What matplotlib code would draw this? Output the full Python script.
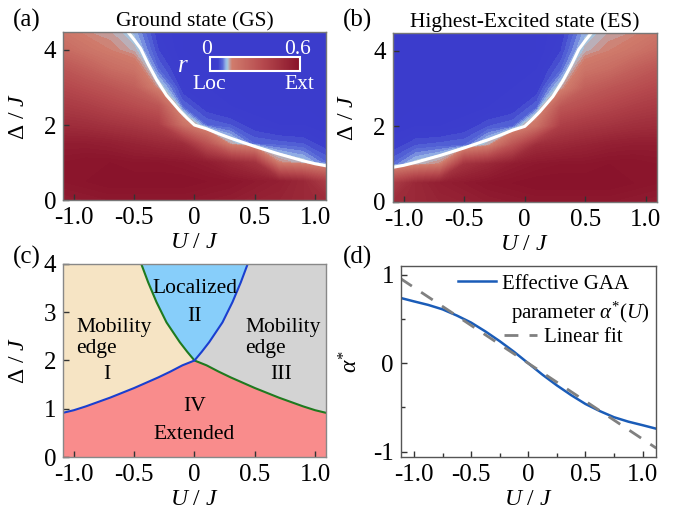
import numpy as np
import matplotlib
matplotlib.use("Agg")
import matplotlib.pyplot as plt
from matplotlib.colors import LinearSegmentedColormap, Normalize
import matplotlib.cm as cm

plt.rcParams['font.family'] = ['Liberation Serif', 'DejaVu Serif']
plt.rcParams['mathtext.fontset'] = 'custom'
plt.rcParams['mathtext.rm'] = 'Liberation Serif'
plt.rcParams['mathtext.it'] = 'Liberation Serif:italic'
plt.rcParams['axes.unicode_minus'] = False

# ---- data ----
# ratio r on a coarse (U, Delta) grid for the ground state (rows: Delta, cols: U)
u_grid = [-1.1, -0.9, -0.7, -0.5, -0.3, -0.1, 0.1, 0.3, 0.5, 0.7, 0.9, 1.1]
d_grid = [0.0, 0.5, 1.0, 1.5, 2.0, 2.5, 3.0, 3.5, 4.0, 4.5]
r_gs = [
    [0.55, 0.56, 0.57, 0.57, 0.57, 0.57, 0.56, 0.55, 0.53, 0.52, 0.50, 0.48],
    [0.58, 0.59, 0.60, 0.60, 0.60, 0.60, 0.59, 0.58, 0.56, 0.54, 0.50, 0.40],
    [0.58, 0.59, 0.59, 0.58, 0.58, 0.57, 0.55, 0.50, 0.45, 0.145, 0.12, 0.08],
    [0.55, 0.55, 0.54, 0.52, 0.50, 0.48, 0.31, 0.13, 0.08, 0.075, 0.07, 0.05],
    [0.48, 0.47, 0.45, 0.43, 0.40, 0.19, 0.08, 0.07, 0.05, 0.04, 0.04, 0.03],
    [0.42, 0.40, 0.37, 0.34, 0.30, 0.08, 0.05, 0.04, 0.03, 0.03, 0.03, 0.03],
    [0.36, 0.33, 0.30, 0.26, 0.13, 0.05, 0.04, 0.03, 0.03, 0.03, 0.03, 0.03],
    [0.30, 0.26, 0.21, 0.18, 0.08, 0.04, 0.03, 0.03, 0.03, 0.03, 0.03, 0.03],
    [0.22, 0.18, 0.15, 0.125, 0.06, 0.03, 0.03, 0.03, 0.03, 0.03, 0.03, 0.03],
    [0.17, 0.14, 0.13, 0.105, 0.05, 0.03, 0.03, 0.03, 0.03, 0.03, 0.03, 0.03],
]
# highest excited state is the mirror image U -> -U of the ground state
r_es = [row[::-1] for row in r_gs]

# mobility-edge line of the ground state (green in (c)); ES line is its mirror
edge_u = [-0.55, -0.5, -0.447, -0.384, -0.315, -0.232, -0.122, -0.06, 0.0,
          0.1, 0.2, 0.3, 0.4, 0.5, 0.6, 0.7, 0.8, 0.9, 1.0, 1.1]
edge_d = [4.47, 4.27, 4.04, 3.62, 3.21, 2.79, 2.38, 2.18, 2.0,
          1.9, 1.77, 1.65, 1.54, 1.43, 1.33, 1.23, 1.14, 1.05, 0.97, 0.91]

# effective GAA parameter and linear fit
alpha_u = [-1.12, -1.0, -0.875, -0.75, -0.625, -0.5, -0.375, -0.25, -0.125, 0.0,
           0.125, 0.25, 0.375, 0.5, 0.625, 0.75, 0.875, 1.0, 1.12]
alpha_v = [0.74, 0.70, 0.66, 0.61, 0.54, 0.46, 0.36, 0.25, 0.13, 0.0,
           -0.13, -0.25, -0.36, -0.46, -0.54, -0.61, -0.66, -0.70, -0.74]
fit_u = [-1.12, 1.12]
fit_v = [0.96, -0.96]

xticks = [-1.0, -0.5, 0.0, 0.5, 1.0]
xtick_labels = ['-1.0', '-0.5', '0', '0.5', '1.0']

# ---- styling ----
TICK_FS = 18
LAB_FS = 17
cmap = LinearSegmentedColormap.from_list('rmap', [
    (0.0, '#3a3acc'), (0.09, '#3c3ecd'), (0.14, '#5a6cd8'),
    (0.17, '#8fa8e4'), (0.185, '#9cc8e6'), (0.2, '#b4bccc'),
    (0.215, '#c0a4a6'), (0.245, '#d07c6c'), (0.58, '#b64a4e'),
    (1.0, '#88122a')])
norm = Normalize(0, 0.6)
levels = np.linspace(0, 0.6, 61)

fig = plt.figure(figsize=(6.76, 5.12), dpi=100)
ax_a = fig.add_axes([0.0932, 0.609, 0.389, 0.328])
ax_b = fig.add_axes([0.581, 0.6055, 0.3905, 0.330])
ax_c = fig.add_axes([0.0932, 0.1074, 0.389, 0.377])
ax_d = fig.add_axes([0.593, 0.1074, 0.377, 0.373])


def style_ax(ax, spine_col='#333333'):
    for s in ax.spines.values():
        s.set_color(spine_col)
        s.set_linewidth(1.0)
    ax.tick_params(direction='in', length=4, width=1, color='#333333',
                   labelsize=TICK_FS, top=False, right=False, pad=5)
    ax.set_xticks(xticks)
    ax.set_xticklabels(xtick_labels)
    ax.set_xlim(-1.09, 1.09)
    ax.set_xlabel('$U$ / $J$', fontsize=LAB_FS, labelpad=2)


U, D = np.meshgrid(u_grid, d_grid)
mirror_u = [-u for u in edge_u]

for ax, r, eu, title in [(ax_a, r_gs, edge_u, 'Ground state (GS)'),
                         (ax_b, r_es, mirror_u, 'Highest-Excited state (ES)')]:
    ax.contourf(U, D, np.array(r), levels=levels, cmap=cmap, norm=norm, extend='both')
    ax.plot(eu, edge_d, color='white', lw=2.2)
    style_ax(ax, '#777777')
    ax.set_ylim(0, 4.47)
    ax.set_yticks([0, 2, 4])
    ax.set_yticklabels(['0', '2', '4'])
    ax.set_ylabel('Δ / $J$', fontsize=LAB_FS)
    ax.yaxis.set_label_coords(-0.13, 0.5)
    ax.set_title(title, fontsize=15.5, pad=4)

# inset colour key in (a)
cax = ax_a.inset_axes([0.559, 0.768, 0.342, 0.083])
cb = fig.colorbar(cm.ScalarMappable(norm=norm, cmap=cmap), cax=cax, orientation='horizontal')
cb.set_ticks([])
cb.outline.set_edgecolor('white')
cb.outline.set_linewidth(1.5)
for txt, x, y in [('0', 0.545, 0.9), ('0.6', 0.89, 0.9), ('Loc', 0.555, 0.69), ('Ext', 0.9, 0.69)]:
    ax_a.text(x, y, txt, color='white', fontsize=15.5, transform=ax_a.transAxes,
              ha='center', va='center')
ax_a.text(0.455, 0.8, '$r$', color='white', fontsize=18, transform=ax_a.transAxes,
          ha='center', va='center')

# ---- (c) phase diagram ----
g_u = np.array(edge_u)          # green: GS mobility edge
g_d = np.array(edge_d)
b_u = -g_u[::-1]                # blue: ES mobility edge (mirror)
b_d = g_d[::-1]
gl, gr = g_u <= 0, g_u >= 0
bl, br = b_u <= 0, b_u >= 0
top = 4.6
ax_c.fill(np.r_[-1.1, g_u[gl], b_u[bl][::-1]],
          np.r_[top, g_d[gl], b_d[bl][::-1]], color='#f6e4c4', lw=0)
ax_c.fill(np.r_[g_u[gl], b_u[br], b_u[-1], g_u[0]],
          np.r_[g_d[gl], b_d[br], top, top], color='#87cefa', lw=0)
ax_c.fill(np.r_[1.1, g_u[gr][::-1], b_u[br]],
          np.r_[top, g_d[gr][::-1], b_d[br]], color='#d3d3d3', lw=0)
ax_c.fill(np.r_[-1.1, b_u[bl], g_u[gr], 1.1],
          np.r_[0, b_d[bl], g_d[gr], 0], color='#f98c8c', lw=0)
ax_c.plot(g_u, g_d, color='#1f7a1f', lw=1.5)
ax_c.plot(b_u, b_d, color='#1a3fd0', lw=1.5)
style_ax(ax_c, '#888888')
ax_c.set_ylim(0, 4)
ax_c.set_yticks([0, 1, 2, 3, 4])
ax_c.set_yticklabels(['0', '1', '2', '3', '4'])
ax_c.set_ylabel('Δ / $J$', fontsize=LAB_FS)
ax_c.yaxis.set_label_coords(-0.13, 0.5)
RFS = 15.5
ax_c.text(0.0, 3.5, 'Localized', fontsize=RFS, ha='center', va='center')
ax_c.text(0.0, 2.92, 'II', fontsize=RFS, ha='center', va='center')
ax_c.text(-0.98, 2.47, 'Mobility\nedge', fontsize=RFS, ha='left', va='center', linespacing=1.1)
ax_c.text(-0.73, 1.7, 'I', fontsize=RFS, ha='center', va='center')
ax_c.text(0.42, 2.47, 'Mobility\nedge', fontsize=RFS, ha='left', va='center', linespacing=1.1)
ax_c.text(0.72, 1.7, 'III', fontsize=RFS, ha='center', va='center')
ax_c.text(0.0, 1.04, 'IV', fontsize=RFS, ha='center', va='center')
ax_c.text(0.0, 0.46, 'Extended', fontsize=RFS, ha='center', va='center')

# ---- (d) effective parameter ----
line_eff, = ax_d.plot(alpha_u, alpha_v, color='#1a5cb8', lw=1.8)
line_fit, = ax_d.plot(fit_u, fit_v, color='#808080', lw=2, dashes=(5, 4))
style_ax(ax_d, '#555555')
ax_d.set_xlim(-1.115, 1.115)
ax_d.set_ylim(-1.06, 1.1)
ax_d.set_yticks([-1, 0, 1])
ax_d.set_yticklabels(['-1', '0', '1'])
ax_d.set_xticks([-0.75, -0.25, 0.25, 0.75], minor=True)
ax_d.set_yticks([-0.5, 0.5], minor=True)
ax_d.tick_params(which='minor', direction='in', length=3, width=1, color='#333333',
                 top=False, right=False)
ax_d.set_ylabel(r'$\alpha^{*}$', fontsize=LAB_FS)
ax_d.yaxis.set_label_coords(-0.15, 0.5)
LFS = 15
leg1 = ax_d.legend([line_eff], ['Effective GAA'], loc='center left', bbox_to_anchor=(0.225, 0.906),
                   frameon=False, fontsize=LFS, borderpad=0, borderaxespad=0,
                   handlelength=1.8, handletextpad=0.3)
ax_d.add_artist(leg1)
ax_d.text(0.431, 0.754, r'parameter $\alpha^{*}(U)$', fontsize=LFS, transform=ax_d.transAxes,
          ha='left', va='center')
ax_d.legend([line_fit], ['Linear fit'], loc='center left', bbox_to_anchor=(0.403, 0.628),
            frameon=False, fontsize=LFS, borderpad=0, borderaxespad=0,
            handlelength=1.6, handletextpad=0.35)

# panel labels
for lab, x, y in [('(a)', 0.019, 0.961), ('(b)', 0.507, 0.961), ('(c)', 0.019, 0.498), ('(d)', 0.507, 0.498)]:
    fig.text(x, y, lab, fontsize=18, ha='left', va='center')

fig.savefig('out.png', dpi=100)
